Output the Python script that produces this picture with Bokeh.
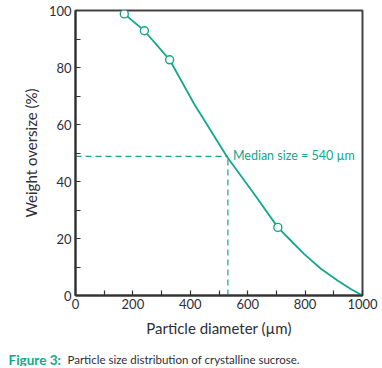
from bokeh.plotting import figure
from bokeh.models import FixedTicker, Range1d, Label, Title
from bokeh.layouts import column
from bokeh.embed import file_html
from bokeh.resources import INLINE

# Data
curve_x = [170, 240, 328, 413, 471, 529, 622, 705, 750, 796, 855, 913, 959, 1000]
curve_y = [98.8, 92.9, 82.7, 67.3, 57.9, 48.5, 35.7, 23.9, 19.3, 14.6, 9.4, 5.3, 2.3, 0]
point_x = [170, 240, 328, 705]
point_y = [98.8, 92.9, 82.7, 23.9]
median_x = 531
median_y = 48.8
median_label = "Median size = 540 µm"
x_ticks = [0, 200, 400, 600, 800, 1000]
x_minor = [100, 300, 500, 700, 900]
y_ticks = [0, 20, 40, 60, 80, 100]
y_minor = [10, 30, 50, 70, 90]

TEAL = "#13a88c"
DARK = "#2e2e38"
FONT = "Lato"

p = figure(width=380, height=340, output_backend="svg", toolbar_location=None,
           x_range=Range1d(0, 1000), y_range=Range1d(0, 100),
           min_border_left=75, min_border_right=18, min_border_top=10, min_border_bottom=45)
p.frame_align = False
p.background_fill_color = "white"
p.border_fill_color = "white"
p.outline_line_color = "#444444"
p.outline_line_width = 2
p.xgrid.visible = False
p.ygrid.visible = False

for ax in (p.xaxis[0], p.yaxis[0]):
    ax.axis_line_color = "#333333"
    ax.axis_line_width = 2
    ax.major_tick_in = 5
    ax.major_tick_out = 0
    ax.minor_tick_in = 5
    ax.minor_tick_out = 0
    ax.major_tick_line_color = "#333333"
    ax.minor_tick_line_color = "#333333"
    ax.major_tick_line_width = 1.2
    ax.minor_tick_line_width = 1.2
    ax.major_label_text_font = FONT
    ax.major_label_text_font_size = "13px"
    ax.major_label_text_color = DARK
    ax.axis_label_text_font = FONT
    ax.axis_label_text_font_size = "15px"
    ax.axis_label_text_font_style = "normal"
    ax.axis_label_text_color = DARK

p.xaxis.ticker = FixedTicker(ticks=x_ticks, minor_ticks=x_minor)
p.yaxis.ticker = FixedTicker(ticks=y_ticks, minor_ticks=y_minor)
p.xaxis.axis_label = "Particle diameter (µm)"
p.xaxis.major_label_standoff = 3
p.yaxis.major_label_standoff = 4
p.xaxis.axis_label_standoff = 7

p.add_layout(Title(text="Weight oversize (%)", align="center", text_font=FONT,
                   text_font_size="15px", text_font_style="normal", text_color=DARK,
                   offset=0, standoff=12), "left")

# median dashed lines
p.line([0, median_x], [median_y, median_y], line_color=TEAL, line_dash="6 4", line_width=1.2)
p.line([median_x, median_x], [0, median_y], line_color=TEAL, line_dash="6 4", line_width=1.2)

p.line(curve_x, curve_y, line_color=TEAL, line_width=1.8)
p.scatter(point_x, point_y, size=8, marker="circle", fill_color="white",
          line_color=TEAL, line_width=1.4)

p.add_layout(Label(x=median_x, y=median_y, text=median_label, x_offset=5, y_offset=1,
                   text_font=FONT, text_font_size="12.5px", text_color=TEAL,
                   text_baseline="middle"))

# caption strip
c = figure(width=380, height=26, output_backend="svg", toolbar_location=None,
           x_range=Range1d(0, 1), y_range=Range1d(0, 1),
           x_axis_location=None, y_axis_location=None,
           min_border_left=0, min_border_right=0, min_border_top=0, min_border_bottom=0)
c.frame_align = False
c.grid.visible = False
c.outline_line_color = None
c.border_fill_color = "white"
c.add_layout(Label(x=8, y=7, x_units="screen", y_units="screen", text="Figure 3:",
                   text_font=FONT, text_font_size="13.5px", text_font_style="bold",
                   text_color=TEAL, text_baseline="middle"))
c.add_layout(Label(x=67, y=7, x_units="screen", y_units="screen",
                   text="Particle size distribution of crystalline sucrose.",
                   text_font=FONT, text_font_size="11.5px", text_color=DARK,
                   text_baseline="middle"))

layout = column(p, c, spacing=0)
open("out.html", "w").write(file_html(layout, INLINE))
